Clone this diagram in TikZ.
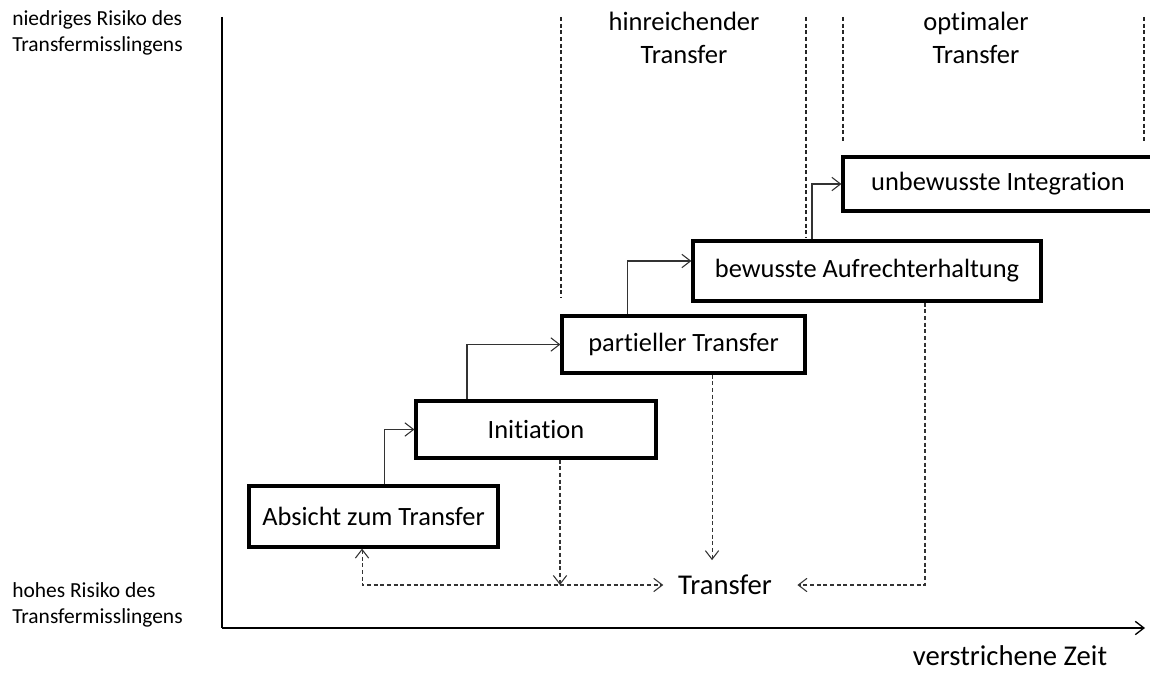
\documentclass[tikz,border=0pt]{standalone}
\usepackage{fontspec}
\setmainfont[Ligatures=NoCommon]{Carlito}
\usetikzlibrary{arrows.meta}
\begin{document}
\begin{tikzpicture}[x=0.75pt,y=-0.75pt,
  tip/.tip={Straight Barb[length=6.5pt,width=10pt]},
  stage/.style={draw=black, line width=2.4pt, fill=white, inner sep=0pt,
    font=\fontsize{19.8}{23}\selectfont},
  conn/.style={draw=black!80, line width=0.8pt, -tip},
  dconn/.style={draw=black!80, line width=0.8pt, dash pattern=on 3pt off 2pt, -tip},
  guide/.style={draw=black!85, line width=0.8pt, dash pattern=on 3pt off 2pt},
  axis/.style={draw=black, line width=1pt},
  heading/.style={align=center, inner sep=0pt, font=\fontsize{19.9}{25}\selectfont},
  risk/.style={align=left, anchor=west, inner sep=0pt, font=\fontsize{16.1}{20}\selectfont}
]
\clip (0,0) rectangle (1150,674);

% axes
\coordinate (origin) at (222,628);
\coordinate (ytop) at (222,17);
\coordinate (xend) at (1145,628);
\draw[axis] (ytop) -- (origin);
\draw[axis, -tip] (origin) -- (xend);

% phase separators
\coordinate (g1t) at (561,17);  \coordinate (g1b) at (561,298);
\coordinate (g2t) at (806,17);  \coordinate (g2b) at (806,238);
\coordinate (g3t) at (843,17);  \coordinate (g3b) at (843,142);
\coordinate (g4t) at (1144,17); \coordinate (g4b) at (1144,142);
\draw[guide] (g1t) -- (g1b);
\draw[guide] (g2t) -- (g2b);
\draw[guide] (g3t) -- (g3b);
\draw[guide] (g4t) -- (g4b);

% phase headings
\node[heading] (hin) at (684,38) {hinreichender\\Transfer};
\node[heading] (opt) at (976,38) {optimaler\\Transfer};

% axis labels
\node[risk] (low) at (12,33) {niedriges Risiko des\\Transfermisslingens};
\node[risk] (high) at (12,605) {hohes Risiko des\\Transfermisslingens};
\node[inner sep=0pt, font=\fontsize{21.5}{26}\selectfont] (time) at (1010,656) {verstrichene Zeit};

% stages
\node[stage, minimum width=186.75pt, minimum height=45.75pt] (A) at (373.5,516.5) {Absicht zum Transfer};
\node[stage, minimum width=180pt, minimum height=42.75pt] (I) at (536,429.5) {Initiation};
\node[stage, minimum width=182.25pt, minimum height=42.75pt] (P) at (683.5,344.5) {partieller Transfer};
\node[stage, minimum width=261pt, minimum height=45pt] (B) at (867,271) {bewusste Aufrechterhaltung};
\node[stage, minimum width=232.5pt, minimum height=40.5pt] (U) at (998,184) {unbewusste Integration};

% transfer outcome
\node[inner xsep=11pt, inner ysep=11pt, font=\fontsize{21.5}{26}\selectfont] (T) at (725,585) {Transfer};

% steps between stages
\draw[conn] ([xshift=7.9pt]A.north) |- (I.west);
\draw[conn] ([xshift=-51.75pt]I.north) |- (P.west);
\draw[conn] ([xshift=-42pt]P.north) |- ([yshift=7.5pt]B.west);
\draw[conn] ([xshift=-41.25pt]B.north) |- (U.west);

% paths to transfer
\coordinate (ad) at ([xshift=-8.6pt]A.south);
\draw[dconn, tip-tip] (ad) |- (T.west);
\coordinate (id) at ([xshift=18pt]I.south);
\draw[dconn] (id) -- (id |- T.west);
\coordinate (pd) at ([xshift=21.4pt]P.south);
\draw[dconn] (pd) -- (pd |- T.north);
\coordinate (bd) at ([xshift=43.5pt]B.south);
\draw[dconn] (bd) |- ([xshift=8pt]T.east);
\end{tikzpicture}
\end{document}
